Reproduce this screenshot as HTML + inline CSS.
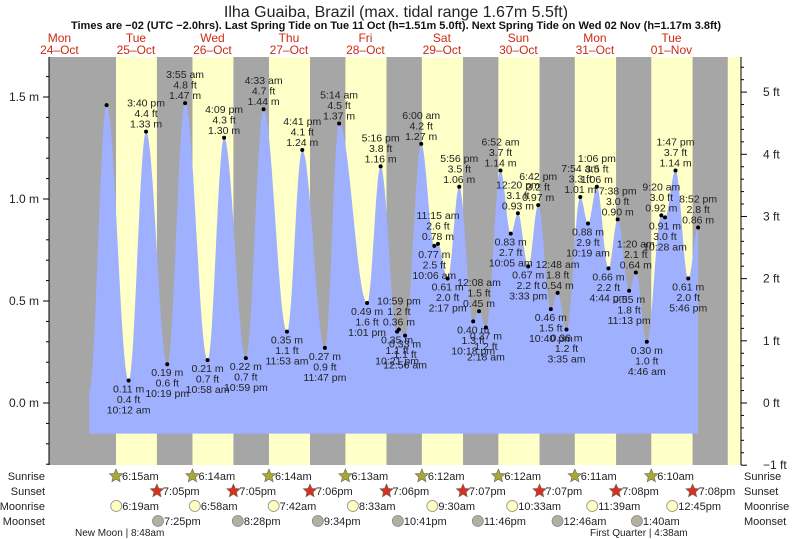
<!DOCTYPE html>
<html><head><meta charset="utf-8"><style>
html,body{margin:0;padding:0;background:#fff;}
svg{display:block;font-family:"Liberation Sans",sans-serif;}
</style></head><body>
<svg id="chart" width="793" height="539" viewBox="0 0 793 539" xmlns="http://www.w3.org/2000/svg">
<text x="396" y="17" text-anchor="middle" font-size="16" fill="#222">Ilha Guaiba, Brazil (max. tidal range 1.67m 5.5ft)</text>
<text x="396" y="29" text-anchor="middle" font-size="11" font-weight="bold" fill="#111">Times are −02 (UTC −2.0hrs). Last Spring Tide on Tue 11 Oct (h=1.51m 5.0ft). Next Spring Tide on Wed 02 Nov (h=1.17m 3.8ft)</text>
<g id="bands"></g><g id="tide"></g><g id="axes"></g><g id="labels"></g><g id="astro"></g>
</svg>
<script>
// ---- data ----
const dayNames = ["Mon","Tue","Wed","Thu","Fri","Sat","Sun","Mon","Tue"];
const dayDates = ["24–Oct","25–Oct","26–Oct","27–Oct","28–Oct","29–Oct","30–Oct","31–Oct","01–Nov"];
// tide extremes: hours since 24-Oct 00:00, heights m, labels
const tideHours = [21.8,27.3,34.2,39.67,46.32,51.92,58.97,64.15,70.98,76.55,83.88,88.68,95.78,100.23,109.02,113.27,118.42,119.0,120.93,126.0,130.1,131.25,134.28,137.93,142.3,144.13,146.3,150.87,154.08,156.33,159.55,162.7,166.67,168.8,171.58,175.9,178.32,181.1,184.73,187.63,191.22,193.33,196.77,201.33,202.47,205.78,209.77,212.87];
const tideHeights = [0.05,1.46,0.11,1.33,0.19,1.47,0.21,1.30,0.22,1.44,0.35,1.24,0.27,1.37,0.49,1.16,0.35,0.36,0.33,1.27,0.77,0.78,0.61,1.06,0.40,0.45,0.37,1.14,0.83,0.93,0.67,0.97,0.46,0.54,0.36,1.01,0.88,1.06,0.66,0.90,0.55,0.64,0.30,0.92,0.91,1.14,0.61,0.86];
const tideTimes = ["","","10:12 am","3:40 pm","10:19 pm","3:55 am","10:58 am","4:09 pm","10:59 pm","4:33 am","11:53 am","4:41 pm","11:47 pm","5:14 am","1:01 pm","5:16 pm","10:21 pm","10:59 pm","12:56 am","6:00 am","10:06 am","11:15 am","2:17 pm","5:56 pm","10:18 pm","12:08 am","2:18 am","6:52 am","10:05 am","12:20 pm","3:33 pm","6:42 pm","10:40 pm","12:48 am","3:35 am","7:54 am","10:19 am","1:06 pm","4:44 pm","7:38 pm","11:13 pm","1:20 am","4:46 am","9:20 am","10:28 am","1:47 pm","5:46 pm","8:52 pm"];
const sunrise = [30.25,54.23,78.23,102.22,126.2,150.2,174.18,198.17,222.17];
const sunset = [43.08,67.08,91.1,115.1,139.12,163.12,187.13,211.13];
const sunriseLabels = ["6:15am","6:14am","6:14am","6:13am","6:12am","6:12am","6:11am","6:10am"];
const sunsetLabels = ["7:05pm","7:05pm","7:06pm","7:06pm","7:07pm","7:07pm","7:08pm","7:08pm"];
const moonrise = [30.32,54.97,79.7,104.55,129.5,154.55,179.65,204.75];
const moonriseLabels = ["6:19am","6:58am","7:42am","8:33am","9:30am","10:33am","11:39am","12:45pm"];
const moonset = [43.42,68.47,93.57,118.68,143.77,168.77,193.67];
const moonsetLabels = ["7:25pm","8:28pm","9:34pm","10:41pm","11:46pm","12:46am","1:40am"];

const NS="http://www.w3.org/2000/svg";
const L=49,R=741,T=57,B=465;
const X=h=>19.6+h*3.1875;
const Y=m=>403-m*204;
function mk(tag,attrs,parent,txt){const e=document.createElementNS(NS,tag);for(const k in attrs)e.setAttribute(k,attrs[k]);if(txt!==undefined)e.textContent=txt;parent.appendChild(e);return e;}
const bands=document.getElementById('bands'),tide=document.getElementById('tide'),axes=document.getElementById('axes'),labels=document.getElementById('labels'),astro=document.getElementById('astro');

let bg=mk('rect',{x:L,y:T,width:R-L,height:B-T,fill:'#a6a6a6'},bands);


sunrise.forEach((s,i)=>{
  const e=i<sunset.length?X(sunset[i]):R;
  const r=mk('rect',{x:X(s),y:T,width:e-X(s),height:B-T,fill:'#ffffc8'},bands);
  
  
});
dayNames.forEach((d,i)=>{
  const cx=X(i*24+12.5);
  const t=mk('text',{x:cx,y:42,'text-anchor':'middle','font-size':12,fill:'#cc2a10'},labels,d);
  
  
  const t2=mk('text',{x:cx,y:54,'text-anchor':'middle','font-size':12,fill:'#cc2a10'},labels,dayDates[i]);
  
  
});

// tide curve
let pts=[];
const base=Y(-0.15);
pts.push([X(tideHours[0]),base]);
for(let i=0;i<tideHours.length-1;i++){
  const h0=tideHours[i],h1=tideHours[i+1],a=tideHeights[i],b=tideHeights[i+1];
  for(let k=0;k<20;k++){const f=k/20;const v=a+(b-a)*(1-Math.cos(Math.PI*f))/2;pts.push([X(h0+(h1-h0)*f),Math.min(base,Y(v))]);}
}
pts.push([X(tideHours[tideHours.length-1]),Y(tideHeights[tideHeights.length-1])]);
pts.push([X(tideHours[tideHours.length-1]),base]);
const poly=mk('polygon',{points:pts.map(p=>p[0].toFixed(1)+','+p[1].toFixed(1)).join(' '),fill:'#9fb0ff'},tide);



// extreme labels
for(let i=1;i<tideHours.length;i++){
  const x=X(tideHours[i]),y=Y(tideHeights[i]);
  const high=tideHeights[i]>=tideHeights[i-1];
  const dot=mk('circle',{cx:x,cy:y,r:2,fill:'#000'},labels);
  
  
  if(!tideTimes[i])continue;
  const m=tideHeights[i].toFixed(2)+' m',ft=(tideHeights[i]/0.3048).toFixed(1)+' ft';
  const lines=high?[tideTimes[i],ft,m]:[m,ft,tideTimes[i]];
  const y0=high?y-25:y+12;
  lines.forEach((s,j)=>{
    const t=mk('text',{x:x,y:y0+j*10.5,'text-anchor':'middle','font-size':10.5,fill:'#222'},labels,s);
    
    
  });
}

// axes
mk('line',{x1:L,y1:T,x2:L,y2:B,stroke:'#000'},axes);
mk('line',{x1:R,y1:T,x2:R,y2:B,stroke:'#000'},axes);
for(let v=-0.3;v<=1.71;v+=0.1){const y=Y(v);if(y<T||y>B)continue;const maj=Math.abs(Math.round(v*2)-v*2)<1e-6;mk('line',{x1:L-(maj?6:3),y1:y,x2:L,y2:y,stroke:'#000'},axes);
  if(maj){const t=mk('text',{x:L-10,y:y+4,'text-anchor':'end','font-size':12,fill:'#222'},axes,v.toFixed(1)+' m');}}
for(let f=-1;f<=5.61;f+=0.2){const y=Y(f*0.3048);if(y<T-1||y>B+1)continue;const maj=Math.abs(Math.round(f)-f)<1e-6;mk('line',{x1:R,y1:y,x2:R+(maj?6:3),y2:y,stroke:'#000'},axes);
  if(maj){const t=mk('text',{x:R+22,y:y+4,'font-size':12,fill:'#222'},axes,(Math.round(f)<0?'−1':Math.round(f))+' ft');}}

// astro rows
const rows=[["Sunrise",480],["Sunset",495],["Moonrise",510],["Moonset",525]];
rows.forEach(r=>{
  const a=mk('text',{x:45,y:r[1],'text-anchor':'end','font-size':11,fill:'#222'},astro,r[0]);
  
  
  const b=mk('text',{x:744,y:r[1],'font-size':11,fill:'#222'},astro,r[0]);
  
  
});
function star(cx,cy,fill){let p=[];for(let k=0;k<10;k++){const r=k%2?3.2:7;const a=-Math.PI/2+k*Math.PI/5;p.push((cx+r*Math.cos(a)).toFixed(1)+','+(cy+r*Math.sin(a)).toFixed(1));}return mk('polygon',{points:p.join(' '),fill:fill,stroke:'#665','stroke-width':0.6},astro);}
function iconRow(times,labs,y,kind,name){
  times.forEach((h,i)=>{if(i>=labs.length)return;const x=X(h);let ic;
    if(kind==='sr')ic=star(x,y-4,'#a8a838');else if(kind==='ss')ic=star(x,y-4,'#d83020');
    else ic=mk('circle',{cx:x,cy:y-4,r:5.5,fill:kind==='mr'?'#ffffc0':'#b4b0a0',stroke:'#888','stroke-width':0.8},astro);
    
    
    const t=mk('text',{x:x+6,y:y,'font-size':11,fill:'#222'},astro,labs[i]);
    
    
  });
}
iconRow(sunrise,sunriseLabels,480,'sr','sunrise');
iconRow(sunset,sunsetLabels,495,'ss','sunset');
iconRow(moonrise,moonriseLabels,510,'mr','moonrise');
iconRow(moonset,moonsetLabels,525,'ms','moonset');
const nm=mk('text',{x:75,y:536,'font-size':10,fill:'#222'},astro,'New Moon | 8:48am');


const fq=mk('text',{x:590,y:536,'font-size':10,fill:'#222'},astro,'First Quarter | 4:38am');


</script>
</body></html>
